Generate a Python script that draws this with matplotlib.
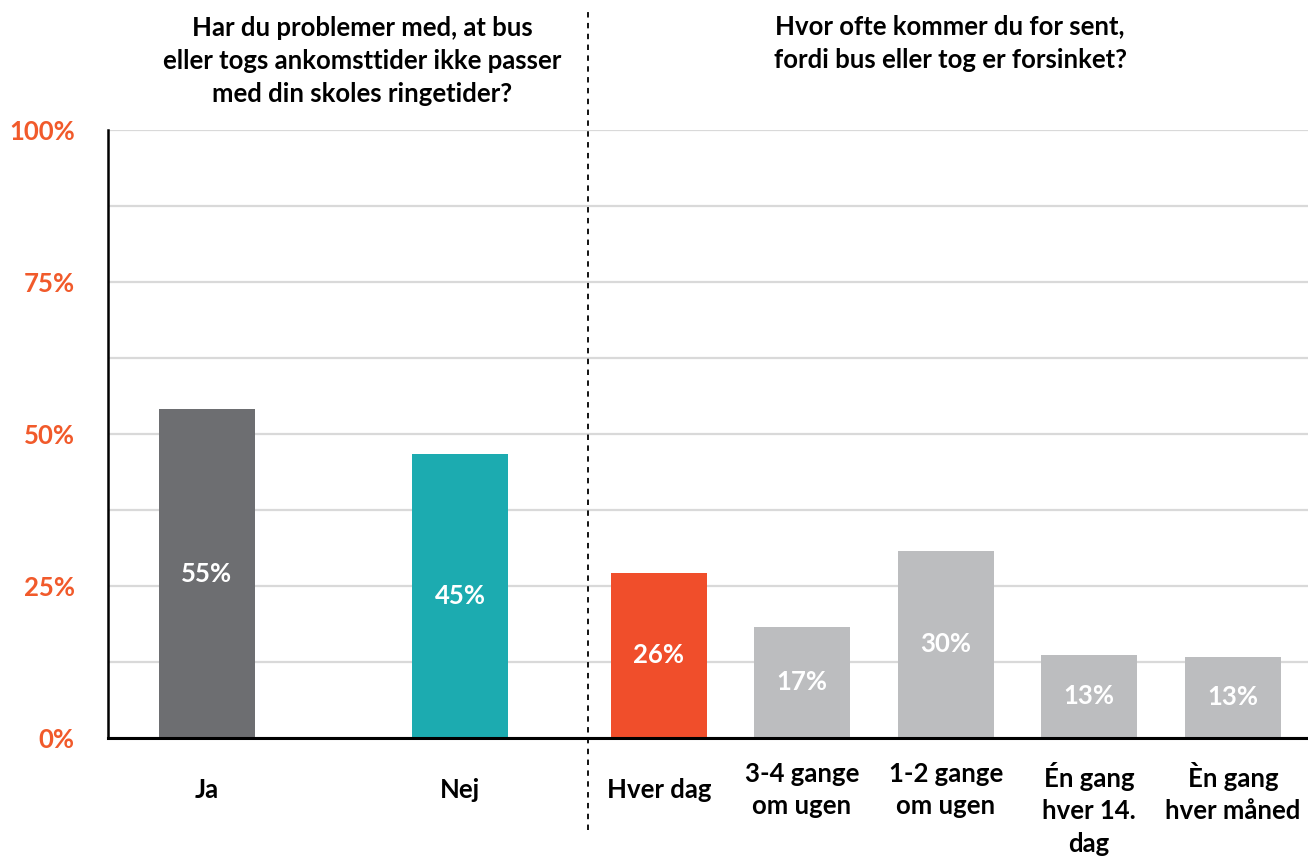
import matplotlib
matplotlib.use("Agg")
import matplotlib.pyplot as plt
from matplotlib.ticker import MultipleLocator

plt.rcParams['font.family'] = ['Lato', 'DejaVu Sans']

# data
categories = ["Ja", "Nej", "Hver dag", "3-4 gange\nom ugen", "1-2 gange\nom ugen",
              "Én gang\nhver 14.\ndag", "Èn gang\nhver måned"]
heights = [54.1, 46.7, 27.2, 18.3, 30.8, 13.7, 13.4]
value_labels = ["55%", "45%", "26%", "17%", "30%", "13%", "13%"]
bar_colors = ["#6d6e71", "#1cabb0", "#f04e2b", "#bcbdbf", "#bcbdbf", "#bcbdbf", "#bcbdbf"]
title_left = "Har du problemer med, at bus\neller togs ankomsttider ikke passer\nmed din skoles ringetider?"
title_right = "Hvor ofte kommer du for sent,\nfordi bus eller tog er forsinket?"
yticks = [0, 25, 50, 75, 100]

# layout (x in pixel-like units from the left axis)
xpos = [99, 352, 551, 694, 838, 981, 1125]
bar_w = 96
divider_x = 480
fs = 18.5

W, H = 1308, 856
fig = plt.figure(figsize=(W / 100, H / 100), dpi=100)
ax = fig.add_axes([108 / W, (H - 738) / H, 1200 / W, 608 / H])

ax.set_xlim(0, 1200)
ax.set_ylim(0, 100)

ax.yaxis.set_minor_locator(MultipleLocator(12.5))
ax.grid(True, which="both", axis="y", color="#d9d9d9", lw=1.6, zorder=0)
ax.set_axisbelow(True)

bars = ax.bar(xpos, heights, width=bar_w, color=bar_colors, zorder=2)
ax.bar_label(bars, labels=value_labels, label_type="center", color="white",
             fontsize=fs, fontweight="bold")

ax.set_yticks(yticks)
ax.set_yticklabels([f"{v}%" for v in yticks], color="#f15a2b", fontsize=fs,
                   fontweight="bold")
ax.tick_params(axis="y", which="both", length=0, pad=24)
ax.set_xticks([])

for s in ["top", "right"]:
    ax.spines[s].set_visible(False)
ax.spines["left"].set_linewidth(1.8)
ax.spines["bottom"].set_linewidth(2.2)
ax.spines["bottom"].set_zorder(3)

# category labels under the axis
for x, lab in zip(xpos, categories):
    n = lab.count("\n")
    if n == 0:
        ax.text(x, -8.6, lab, ha="center", va="center", fontsize=fs,
                fontweight="bold", clip_on=False)
    else:
        ax.text(x, -3.9, lab, ha="center", va="top", fontsize=fs,
                fontweight="bold", linespacing=1.42, clip_on=False)

# dashed divider between the two questions
ax.plot([divider_x, divider_x], [-15.2, 119.5], ls=(0, (3, 3)), color="black",
        lw=1.3, clip_on=False, zorder=4)

fig.text(362 / W, 1 - 61 / H, title_left, ha="center", va="center", fontsize=fs,
         fontweight="bold", linespacing=1.45)
fig.text(950 / W, 1 - 43 / H, title_right, ha="center", va="center", fontsize=fs,
         fontweight="bold", linespacing=1.45)

fig.savefig("out.png", dpi=100)
